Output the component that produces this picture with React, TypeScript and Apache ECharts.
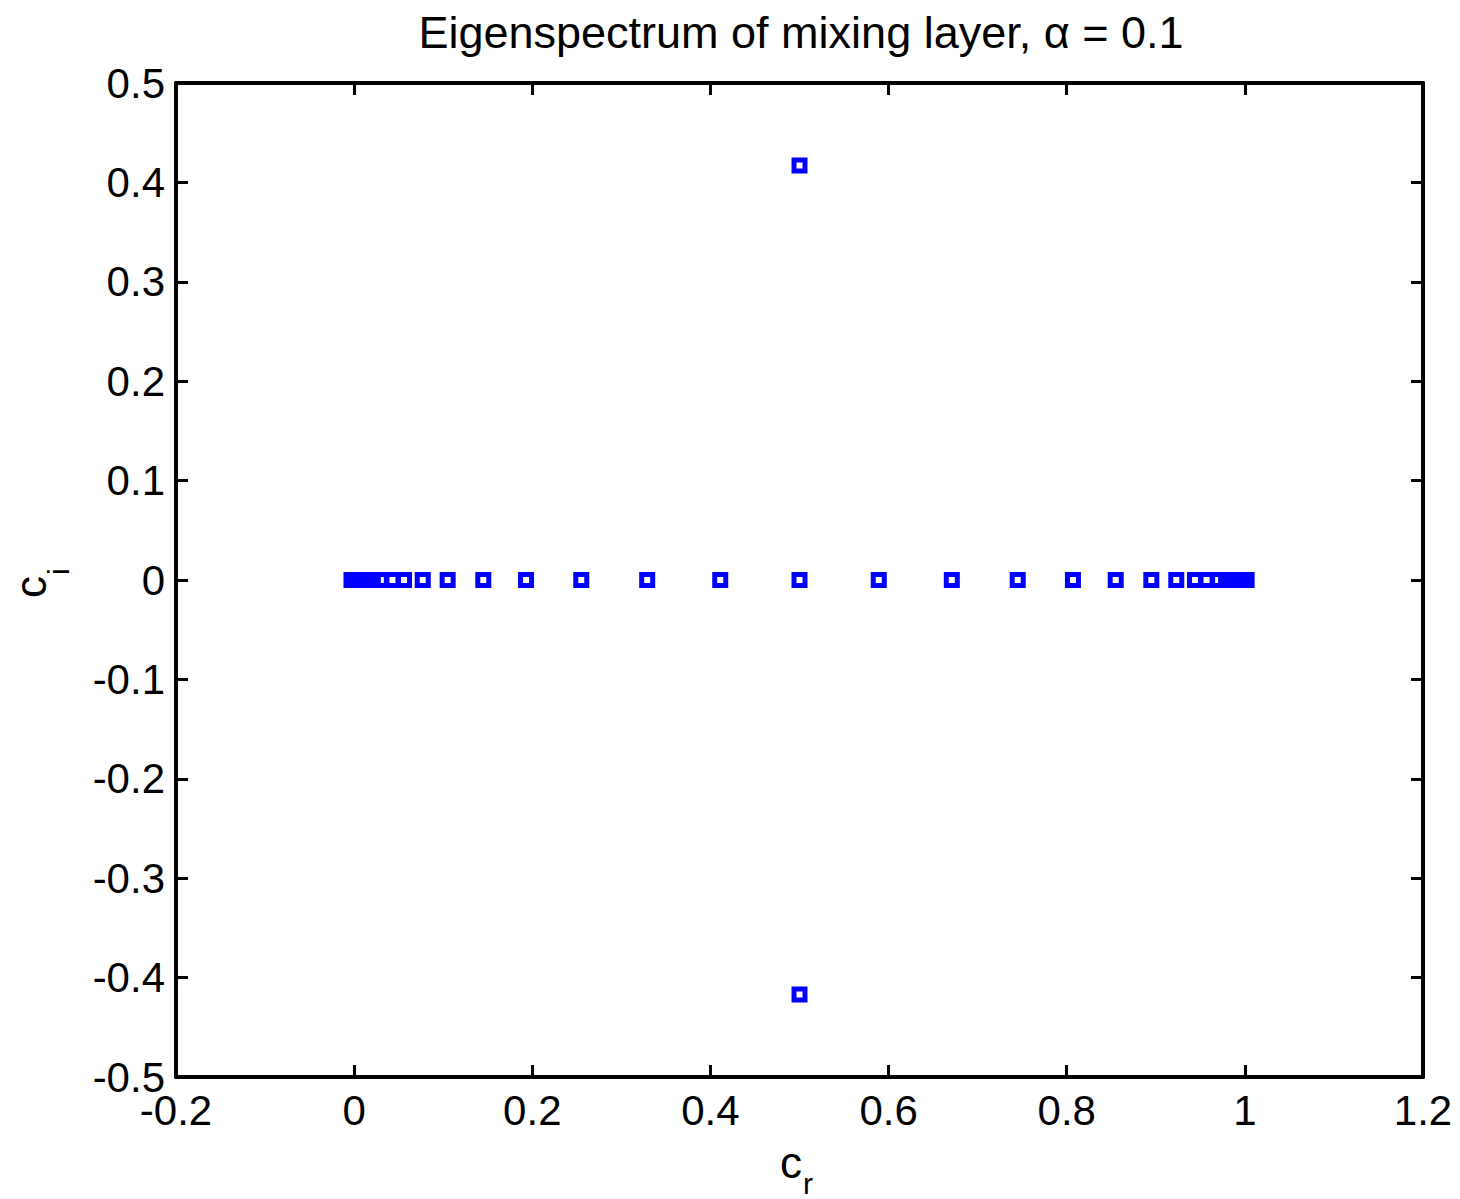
import React, { useEffect, useRef } from "react";
import * as echarts from "echarts";

const titleText = "Eigenspectrum of mixing layer, \u03b1 = 0.1";
const xTicks = { min: -0.2, max: 1.2, interval: 0.2 };
const yTicks = { min: -0.5, max: 0.5, interval: 0.1 };

// real parts of the eigenvalues on the real axis (c_i = 0)
const continuousCr = [
  -0.003, 0.0, 0.002, 0.005, 0.009, 0.014, 0.021, 0.03, 0.043, 0.056, 0.077,
  0.105, 0.145, 0.193, 0.255, 0.329, 0.411, 0.5, 0.589, 0.671, 0.745, 0.807,
  0.855, 0.895, 0.923, 0.944, 0.957, 0.97, 0.979, 0.986, 0.991, 0.995, 0.998,
  1.0, 1.002,
];
const continuousCi = continuousCr.map(() => 0);
// discrete mode pair
const modeCr = [0.5, 0.5];
const modeCi = [0.417, -0.417];

const FONT = "'Liberation Sans', Arial, Helvetica, sans-serif";

export default function App() {
  const ref = useRef<HTMLDivElement>(null);
  useEffect(() => {
    document.body.style.margin = "0";
    if (!ref.current) return;
    const chart = echarts.init(ref.current, null, { renderer: "svg" });
    const data: number[][] = [];
    continuousCr.forEach((x, i) => data.push([x, continuousCi[i]]));
    modeCr.forEach((x, i) => data.push([x, modeCi[i]]));

    const axisLine = { show: true, onZero: false, lineStyle: { color: "#000", width: 4 } };
    const tick = { show: true, inside: true, length: 12, lineStyle: { color: "#000", width: 3 } };
    const label = { color: "#000", fontSize: 42, fontFamily: FONT };

    chart.setOption({
      animation: false,
      backgroundColor: "#fff",
      title: {
        text: titleText,
        left: 796,
        textAlign: "center",
        top: 5,
        textStyle: { fontSize: 45, fontWeight: "normal", color: "#000", fontFamily: FONT },
      },
      grid: { left: 176, top: 83, right: 37, bottom: 122, containLabel: false },
      xAxis: [
        {
          type: "value", position: "bottom", ...xTicks,
          axisLine, axisTick: tick, splitLine: { show: false },
          axisLabel: { ...label, margin: 12 },
        },
        {
          type: "value", position: "top", ...xTicks,
          axisLine, axisTick: tick, splitLine: { show: false },
          axisLabel: { show: false },
        },
      ],
      yAxis: [
        {
          type: "value", position: "left", ...yTicks,
          axisLine, axisTick: tick, splitLine: { show: false },
          axisLabel: { ...label, margin: 11 },
        },
        {
          type: "value", position: "right", ...yTicks,
          axisLine, axisTick: tick, splitLine: { show: false },
          axisLabel: { show: false },
        },
      ],
      graphic: [
        {
          type: "text", x: 780, y: 1140,
          style: { text: "c", fontSize: 44, fontFamily: FONT, fill: "#000" },
        },
        {
          type: "text", x: 803, y: 1168,
          style: { text: "r", fontSize: 30, fontFamily: FONT, fill: "#000" },
        },
        {
          type: "text", x: 8, y: 598, rotation: Math.PI / 2,
          style: { text: "c", fontSize: 44, fontFamily: FONT, fill: "#000" },
        },
        {
          type: "text", x: 43, y: 575, rotation: Math.PI / 2,
          style: { text: "i", fontSize: 30, fontFamily: FONT, fill: "#000" },
        },
      ],
      series: [
        {
          type: "scatter",
          xAxisIndex: 0,
          yAxisIndex: 0,
          data,
          symbol: "rect",
          symbolSize: 11,
          itemStyle: { color: "transparent", borderColor: "#0000ff", borderWidth: 5, opacity: 1 },
          emphasis: { disabled: true },
        },
      ],
    });
    return () => chart.dispose();
  }, []);
  return <div ref={ref} style={{ width: 1460, height: 1199 }} />;
}
